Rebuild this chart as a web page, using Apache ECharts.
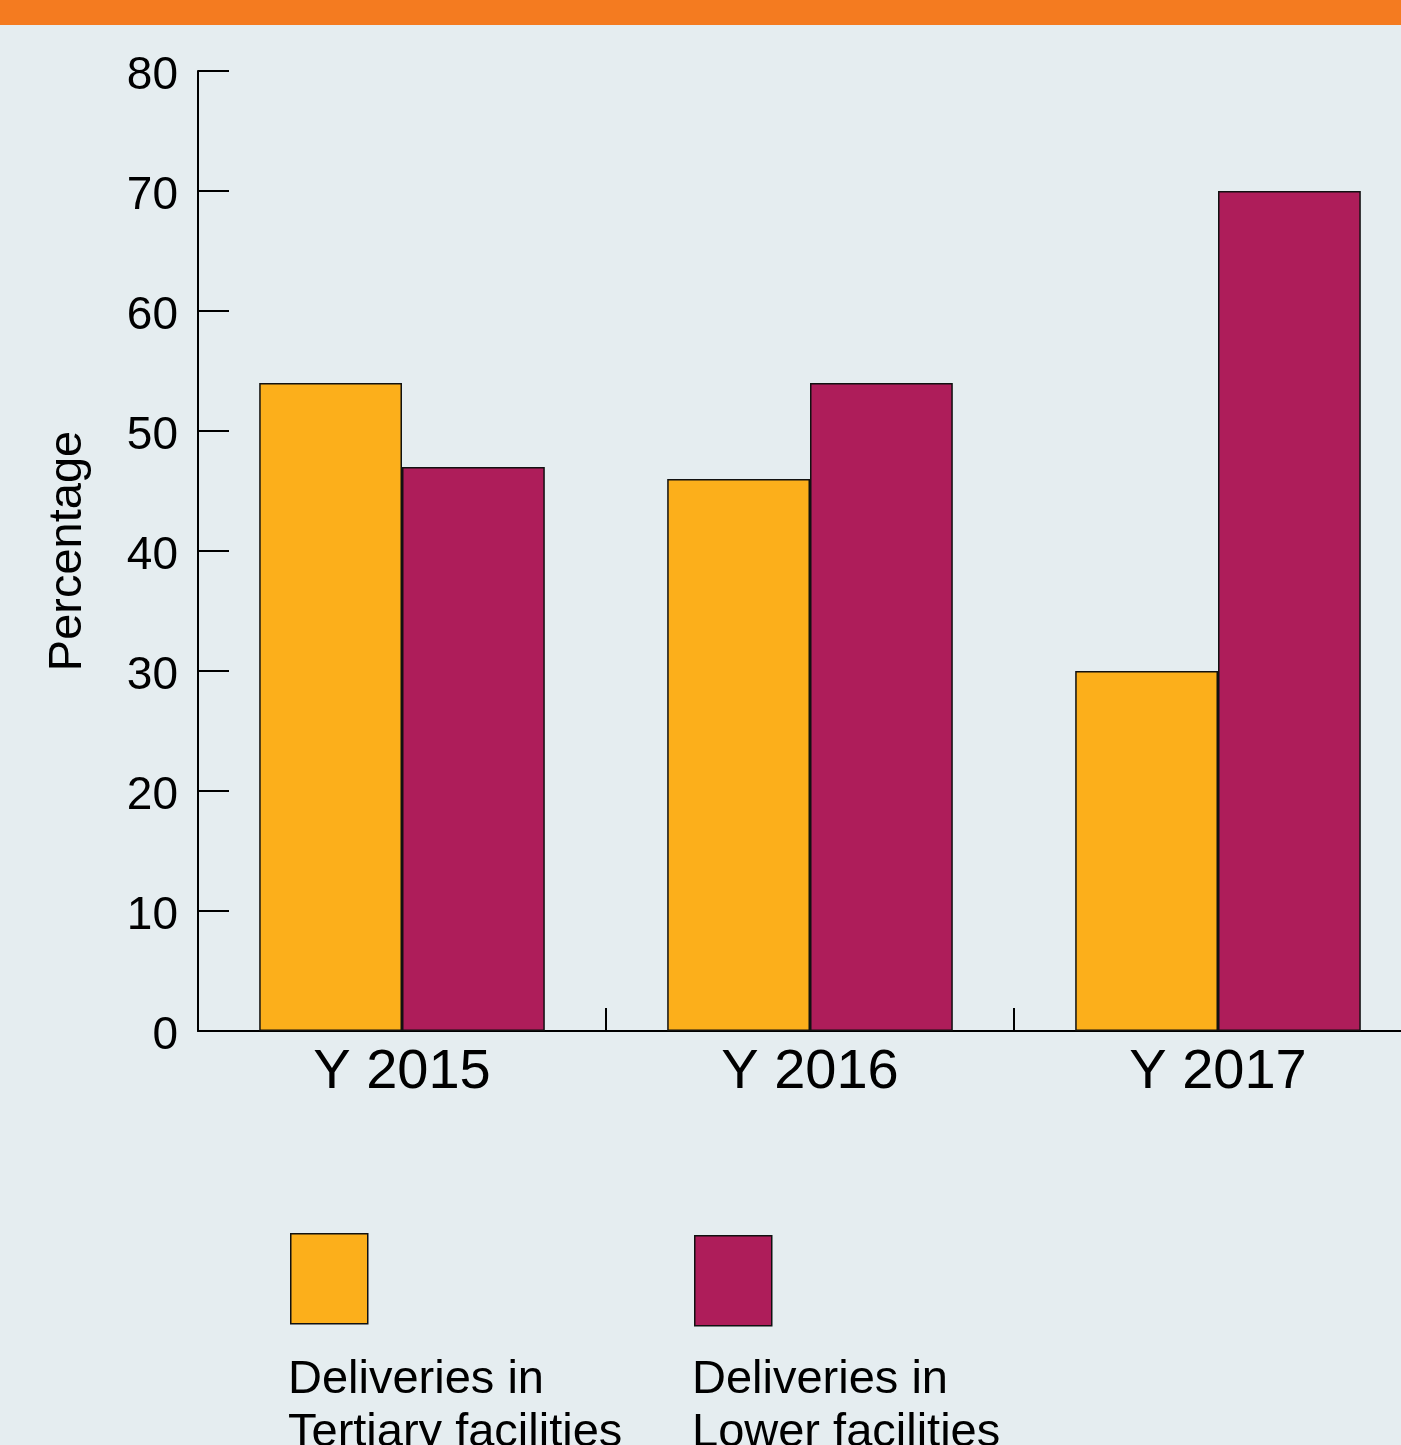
<!DOCTYPE html>
<html lang="en">
<head>
  <meta charset="UTF-8">
  <title>Deliveries by facility level</title>
  <script src="https://cdn.jsdelivr.net/npm/echarts@6/dist/echarts.min.js"></script>
  <style>
    html, body { margin: 0; padding: 0; background: #e5edf0; }
  </style>
</head>
<body>
<div id="main" style="width:1401px;height:1445px"></div>
<script>
  var years = ['Y 2015', 'Y 2016', 'Y 2017'];
  var seriesNames = ['Deliveries in\nTertiary facilities', 'Deliveries in\nLower facilities'];
  var tertiary = [54, 46, 30];
  var lower = [47, 54, 70];
  var yTicks = [0, 10, 20, 30, 40, 50, 60, 70, 80];

  var colors = ['#fcaf1b', '#ae1d5a'];
  var font = '"Liberation Sans", Arial, sans-serif';

  var chart = echarts.init(document.getElementById('main'));

  var legendLeft = [290, 694];
  var legendTop = [1233, 1235];

  chart.setOption({
    backgroundColor: '#e5edf0',
    animation: false,
    textStyle: {fontFamily: font},
    grid: {left: 198, top: 71, width: 1224, height: 960, outerBoundsMode: 'none'},
    legend: seriesNames.map(function (n, i) {
      return {
        data: [n], left: legendLeft[i], top: legendTop[i], padding: 0,
        itemWidth: 77, itemHeight: 90, icon: 'rect',
        formatter: function () { return ''; },
        itemStyle: {borderColor: '#111', borderWidth: 1.5},
        selectedMode: false
      };
    }),
    graphic: [{
      type: 'rect', left: 0, top: 0, z: 10,
      shape: {width: 1401, height: 25},
      style: {fill: '#f47b20'}
    }].concat(seriesNames.map(function (n, i) {
      return {
        type: 'text', left: legendLeft[i] - 2, top: 1354,
        style: {text: n, font: '47px ' + font, fill: '#000', lineHeight: 53}
      };
    })),
    xAxis: {
      type: 'category',
      data: years,
      axisLine: {lineStyle: {color: '#000', width: 2}},
      axisTick: {show: true, inside: true, length: 23, lineStyle: {color: '#000', width: 2}},
      axisLabel: {color: '#000', fontSize: 56, margin: 14}
    },
    yAxis: {
      type: 'value',
      min: yTicks[0], max: yTicks[yTicks.length - 1], interval: 10,
      name: 'Percentage', nameLocation: 'middle', nameGap: 106,
      nameTextStyle: {color: '#000', fontSize: 47},
      splitLine: {show: false},
      axisLine: {show: true, lineStyle: {color: '#000', width: 2}},
      axisTick: {show: true, inside: true, length: 31, lineStyle: {color: '#000', width: 2}},
      axisLabel: {
        margin: 20,
        formatter: function (v) { return '{t|' + v + '}'; },
        rich: {t: {color: '#000', fontSize: 46, fontFamily: font, padding: [11, 0, 0, 0]}}
      }
    },
    series: [{
      name: seriesNames[0], type: 'bar', data: tertiary,
      barGap: '0%', barCategoryGap: '30%',
      itemStyle: {color: colors[0], borderColor: '#111', borderWidth: 1.5}
    }, {
      name: seriesNames[1], type: 'bar', data: lower,
      barGap: '0%', barCategoryGap: '30%',
      itemStyle: {color: colors[1], borderColor: '#111', borderWidth: 1.5}
    }]
  });
</script>
</body>
</html>
